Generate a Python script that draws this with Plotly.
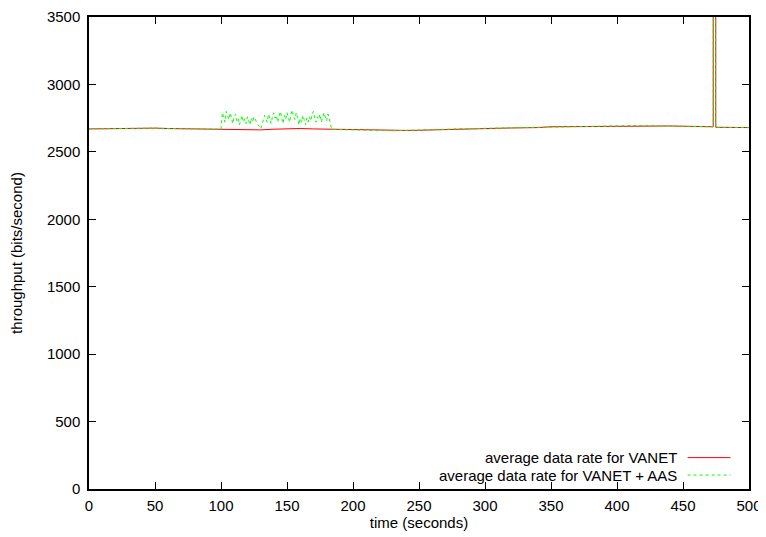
import plotly.graph_objects as go

# ---- data ----
base_time = [0, 10, 20, 30, 40, 50, 60, 70, 80, 90, 100, 110, 120, 130, 140, 150, 160, 170, 180,
             190, 200, 210, 220, 230, 240, 250, 260, 270, 280, 290, 300, 310, 320, 330, 340, 350,
             360, 370, 380, 390, 400, 410, 420, 430, 440, 450, 460, 470, 472.9, 472.9, 474.8, 474.8,
             480, 490, 500]
vanet_rate = [2670, 2672, 2671, 2673, 2675, 2676, 2673, 2672, 2670, 2669, 2668, 2668, 2666, 2663,
              2668, 2672, 2673, 2670, 2668, 2665, 2662, 2660, 2658, 2657, 2659, 2660, 2663, 2667,
              2671, 2673, 2674, 2675, 2677, 2678, 2680, 2686, 2687, 2686, 2687, 2690, 2693, 2694,
              2694, 2693, 2692, 2690, 2688, 2686, 2686, 6000, 6000, 2682, 2682, 2681, 2680]

noise_time = list(range(100, 185))
noise_rate = [2668, 2790, 2760, 2720, 2800, 2770, 2740, 2790, 2750, 2710, 2760, 2780, 2730, 2750,
              2700, 2740, 2770, 2720, 2745, 2710, 2760, 2730, 2700, 2750, 2720, 2760, 2740, 2710,
              2700, 2690, 2670, 2700, 2730, 2770, 2740, 2720, 2780, 2740, 2710, 2760, 2790, 2750,
              2770, 2720, 2760, 2800, 2750, 2710, 2770, 2740, 2790, 2760, 2720, 2780, 2810, 2760,
              2740, 2790, 2760, 2700, 2750, 2720, 2770, 2740, 2700, 2750, 2720, 2760, 2730, 2780,
              2800, 2750, 2720, 2760, 2740, 2780, 2720, 2750, 2790, 2760, 2730, 2780, 2750, 2700,
              2668]

# green series: baseline outside the noisy window, noisy values inside
aas_time = [t for t in base_time if t < 100] + noise_time + [t for t in base_time if t > 184]
aas_rate = ([v for t, v in zip(base_time, vanet_rate) if t < 100] + noise_rate +
            [v for t, v in zip(base_time, vanet_rate) if t > 184])

x_ticks = [0, 50, 100, 150, 200, 250, 300, 350, 400, 450, 500]
y_ticks = [0, 500, 1000, 1500, 2000, 2500, 3000, 3500]

series_names = ["average data rate for VANET", "average data rate for VANET + AAS"]

FONT = "Liberation Sans, Arial, Helvetica, sans-serif"
FS = 15

fig = go.Figure()
fig.add_trace(go.Scatter(x=base_time, y=vanet_rate, mode="lines", name=series_names[0],
                         line=dict(color="#ff0000", width=1)))
fig.add_trace(go.Scatter(x=aas_time, y=aas_rate, mode="lines", name=series_names[1],
                         line=dict(color="#00ff00", width=1, dash="3px,3px")))

axis_common = dict(showgrid=False, zeroline=False, showline=True, linecolor="black",
                   linewidth=1.5, mirror="ticks", ticks="inside", ticklen=7,
                   tickcolor="black", tickwidth=1, automargin=False,
                   tickfont=dict(family=FONT, size=FS, color="black"))

fig.update_xaxes(range=[0, 500], tickvals=x_ticks, ticklabelstandoff=2,
                 title=dict(text="time (seconds)", standoff=4,
                            font=dict(family=FONT, size=FS, color="black")), **axis_common)
fig.update_yaxes(range=[0, 3500], tickvals=y_ticks, ticklabelstandoff=4,
                 title=dict(text="throughput (bits/second)", standoff=28,
                            font=dict(family=FONT, size=FS, color="black")), **axis_common)

# gnuplot-style key: text right-aligned, sample line to its right
key_y = [0.0665, 0.0295]
dashes = ["solid", "3px,3px"]
colors = ["#ff0000", "#00ff00"]
for name, ky, dsh, col in zip(series_names, key_y, dashes, colors):
    fig.add_annotation(x=0.892, y=ky, xref="paper", yref="paper", text=name, showarrow=False,
                       xanchor="right", yanchor="middle", borderpad=0,
                       font=dict(family=FONT, size=FS, color="black"))
    fig.add_shape(type="line", xref="paper", yref="paper", x0=0.907, x1=0.972, y0=ky, y1=ky,
                  line=dict(color=col, width=1, dash=dsh))

# page body has an 8px margin, so the figure is sized to fit the 766x537 window
fig.update_layout(width=758, height=529, showlegend=False,
                  margin=dict(l=81, r=17, t=8.5, b=47.5),
                  plot_bgcolor="white", paper_bgcolor="white",
                  font=dict(family=FONT, size=FS, color="black"))

fig.write_html("out.html")
